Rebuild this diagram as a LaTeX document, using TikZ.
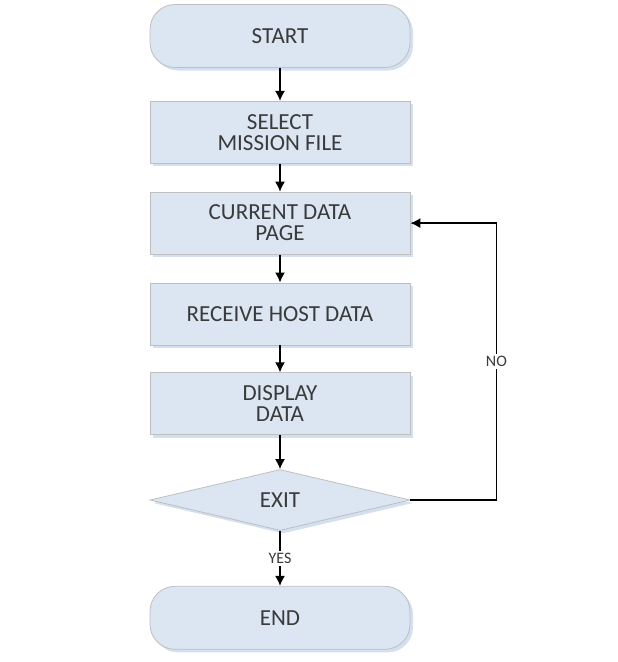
\documentclass[tikz,border=0pt]{standalone}
\usepackage{fontspec}
\setmainfont{Carlito}
\usepackage{tikz}
\usetikzlibrary{shapes.geometric, positioning, shadows}
\usetikzlibrary{arrows.meta}
\tikzset{>={Latex[width=10pt,length=10pt]}}
\definecolor{boxblue}{HTML}{DCE6F2}
\definecolor{boxline}{HTML}{BFBFBF}
\definecolor{shadowblue}{HTML}{D3E0F1}
\definecolor{textgray}{HTML}{3A3A3A}

\begin{document}
\begin{tikzpicture}[box/.style={rectangle, draw=boxline, fill=boxblue, line width=0.8pt, text=textgray, align=center, font=\fontsize{23}{21}\selectfont, minimum width=260pt, minimum height=62pt, drop shadow={shadow xshift=3pt, shadow yshift=-3pt, fill=shadowblue, opacity=1}}, termbox/.style={box, rounded corners=25pt, minimum height=63pt}, decision/.style={box, diamond, inner sep=0pt, minimum width=260pt, minimum height=61pt}, label/.style={fill=white, text=textgray, inner sep=2pt, font=\fontsize{16}{16}\selectfont}, line width=1.4pt]
    \useasboundingbox (0,0) rectangle (618pt,-662pt);

    %Nodes
    \node[termbox](start) at (280pt,-36pt){START};
    \node[box](select)[below=33pt of start]{SELECT\\MISSION FILE};
    \node[box](current)[below=28pt of select]{CURRENT DATA\\PAGE};
    \node[box](receive)[below=28pt of current]{RECEIVE HOST DATA};
    \node[box](display)[below=27pt of receive]{DISPLAY\\DATA};
    \node[decision](exit)[below=34pt of display]{EXIT};
    \node[termbox](end)[below=55pt of exit]{END};

    %Lines
    \draw[->] (start.south) -- (select.north);
    \draw[->] (select.south) -- (current.north);
    \draw[->] (current.south) -- (receive.north);
    \draw[->] (receive.south) -- (display.north);
    \draw[->] (display.south) -- (exit.north);
    \draw[->] (exit.south) -- node[label]{YES} (end.north);
    \draw[->] (exit.east) -- ++(86pt,0) |- node[label, pos=0.25]{NO} (current.east);

\end{tikzpicture}
\end{document}
